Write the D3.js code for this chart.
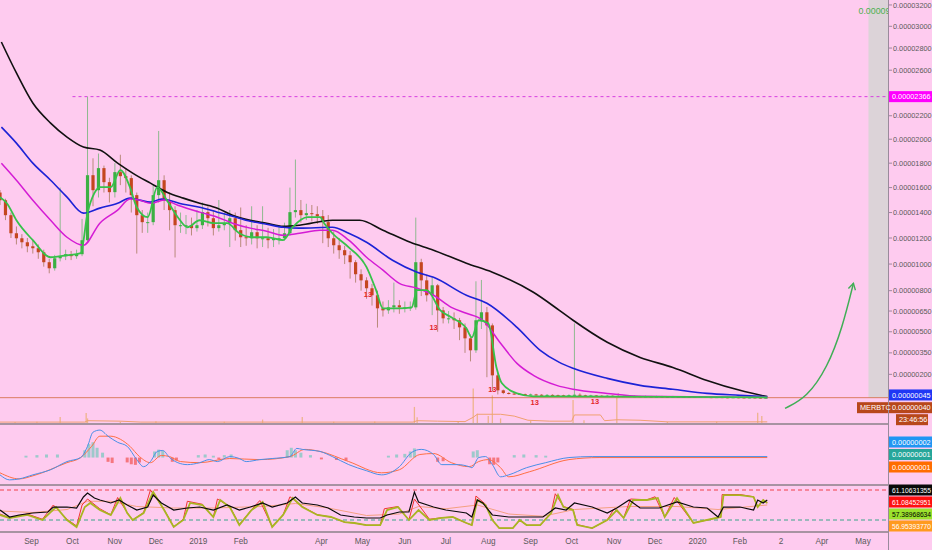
<!DOCTYPE html>
<html>
<head>
<meta charset="utf-8">
<script src="https://cdn.jsdelivr.net/npm/d3@7"></script>
<style>
  body { margin: 0; background: #fecbef; }
  svg { display: block; font-family: "Liberation Sans", Arial, sans-serif; }
</style>
</head>
<body>
<div id="chart-container"></div>
<script>
// Prices are in satoshi (1e-8 BTC). Candles every 4 days from 2018-08-09.
const candleStart = "2018-08-09";
const candleStepDays = 4;

const closes = [
  1498,1379,1237,1198,1167,1136,1121,1090,1014,968,
  1044,1060,1075,1060,1075,1183,1701,1579,1759,1644,
  1563,1726,1693,1677,1539,1379,1324,1324,1539,1660,
  1498,1419,1300,1300,1300,1277,1300,1403,1355,1277,
  1300,1316,1355,1261,1206,1198,1245,1198,1198,1183,
  1198,1198,1237,1403,1419,1379,1395,1387,1371,1324,
  1198,1144,1106,1067,1014,923,877,818,766,670,
  655,677,692,677,677,677,1014,877,766,840,
  655,597,597,583,532,453,368,583,641,546,
  193,90,72,68,66,64,62,62,60,58,
  59,57,56,55,57,60,56,54,55,53,
  52,53,51,50,51,49,50,48,49,47,
  48,47,46,47,45,46,45,44,46,44,
  43,44,43,42,43,42,41,42,41,40,
  40];
const highs = [
  1580,1510,1400,1290,1230,1200,1180,1150,1110,1040,
  1070,1600,1110,1100,1110,1350,2366,1840,1880,1780,
  1680,1800,1870,1760,1700,1560,1420,1400,1620,2070,
  1700,1560,1450,1400,1380,1360,1420,1480,1450,1420,
  1500,1400,1420,1400,1440,1300,1450,1300,1450,1280,
  1270,1300,1320,1600,1830,1500,1470,1460,1450,1420,
  1380,1250,1200,1140,1100,1030,960,900,850,800,
  720,730,860,730,720,720,1360,1040,920,900,
  850,680,650,640,600,560,480,870,880,680,
  560,210,95,78,72,70,68,68,66,64,
  65,63,61,60,63,560,70,60,60,58,
  57,58,56,70,56,54,55,53,54,52,
  53,52,51,52,50,51,50,49,51,49,
  48,49,48,47,48,47,46,47,46,45,
  45];
const lows = [
  1460,1340,1200,1150,1120,1090,1080,1040,980,930,
  950,1020,1030,1030,1040,1060,1170,1450,1520,1560,
  1480,1520,1620,1560,1400,1080,1240,1240,1300,1480,
  1420,1260,1050,1240,1230,1220,1250,1270,1290,1220,
  1250,1260,1130,1180,1130,1140,1150,1120,1130,1120,
  1130,1150,1180,1220,1360,1320,1340,1330,1310,1160,
  1130,1080,1040,1000,890,860,800,740,690,530,
  610,630,640,630,640,650,660,760,720,620,
  500,560,560,520,440,350,290,350,520,180,
  85,62,64,62,60,58,56,56,54,52,
  53,51,50,49,50,52,50,48,49,47,
  46,47,45,45,45,43,44,42,43,41,
  42,41,40,41,39,40,39,38,40,38,
  37,38,37,36,37,36,35,36,35,34,
  35];
const firstOpen = 1560;

// Moving averages
const maBlack = [
  ["2018-08-10",2855],["2018-08-21",2575],["2018-09-02",2310],["2018-09-15",2137],["2018-09-27",2018],
  ["2018-10-09",1934],["2018-10-21",1909],["2018-11-03",1800],["2018-11-14",1718],["2018-11-27",1636],
  ["2018-12-09",1563],["2018-12-21",1515],["2019-01-02",1474],["2019-01-15",1435],["2019-01-26",1379],
  ["2019-02-08",1339],["2019-02-20",1316],["2019-03-04",1292],["2019-03-16",1300],["2019-04-09",1339],
  ["2019-04-29",1339],["2019-05-16",1261],["2019-06-05",1167],["2019-06-22",1106],["2019-07-16",1006],
  ["2019-08-04",938],["2019-09-03",788],["2019-09-22",655],["2019-10-02",583],["2019-10-27",425],
  ["2019-11-20",318],["2019-12-14",248],["2020-01-08",158],["2020-02-01",90],["2020-02-21",47]];
const maBlue = [
  ["2018-08-10",2103],["2018-08-21",1967],["2018-09-02",1800],["2018-09-15",1660],["2018-09-27",1523],
  ["2018-10-09",1395],["2018-10-21",1435],["2018-11-03",1474],["2018-11-12",1515],["2018-11-19",1499],
  ["2018-11-27",1483],["2018-12-05",1507],["2018-12-21",1466],["2019-01-02",1442],["2019-01-15",1403],
  ["2019-01-26",1371],["2019-02-08",1331],["2019-02-20",1308],["2019-03-04",1284],["2019-03-16",1277],
  ["2019-04-09",1284],["2019-04-21",1237],["2019-05-04",1167],["2019-05-23",1029],["2019-06-10",938],
  ["2019-06-22",900],["2019-07-16",766],["2019-07-31",707],["2019-08-22",532],["2019-09-08",368],
  ["2019-09-22",283],["2019-10-02",242],["2019-10-27",172],["2019-11-20",124],["2019-12-14",97],
  ["2020-01-08",69],["2020-02-01",56],["2020-02-21",46]];
const maMagenta = [
  ["2018-08-10",1800],["2018-08-21",1660],["2018-09-02",1498],["2018-09-15",1339],["2018-09-27",1206],
  ["2018-10-09",1144],["2018-10-21",1316],["2018-11-03",1419],["2018-11-12",1507],["2018-11-19",1499],
  ["2018-11-27",1474],["2018-12-07",1499],["2018-12-17",1458],["2019-01-02",1403],["2019-01-15",1363],
  ["2019-01-26",1316],["2019-02-08",1277],["2019-02-20",1253],["2019-03-04",1222],["2019-03-16",1237],
  ["2019-03-31",1261],["2019-04-09",1261],["2019-04-21",1183],["2019-05-04",1052],["2019-05-16",954],
  ["2019-05-28",855],["2019-06-10",818],["2019-06-22",766],["2019-07-05",677],["2019-07-16",634],
  ["2019-07-28",583],["2019-08-10",418],["2019-08-22",276],["2019-09-03",193],["2019-09-20",124],
  ["2019-10-02",97],["2019-10-27",69],["2019-11-20",49],["2020-02-21",42]];
const maGreen = [
  ["2018-08-09",1523],["2018-08-14",1474],["2018-08-21",1339],["2018-09-02",1183],["2018-09-15",1052],
  ["2018-09-27",1067],["2018-10-07",1083],["2018-10-12",1395],["2018-10-17",1555],["2018-10-21",1604],
  ["2018-10-29",1604],["2018-11-05",1743],["2018-11-12",1604],["2018-11-17",1442],["2018-11-25",1363],
  ["2018-12-02",1604],["2018-12-09",1498],["2018-12-17",1363],["2018-12-24",1284],["2019-01-02",1339],
  ["2019-01-12",1316],["2019-01-22",1316],["2019-01-31",1237],["2019-02-09",1206],["2019-02-20",1206],
  ["2019-03-04",1183],["2019-03-11",1284],["2019-03-22",1363],["2019-03-31",1363],["2019-04-03",1316],
  ["2019-04-09",1237],["2019-04-21",1128],["2019-05-04",977],["2019-05-11",804],["2019-05-16",670],
  ["2019-05-28",670],["2019-06-06",677],["2019-06-10",804],["2019-06-17",804],["2019-06-27",655],
  ["2019-07-05",604],["2019-07-16",525],["2019-07-20",460],["2019-07-25",583],["2019-08-01",561],
  ["2019-08-07",248],["2019-08-11",138],["2019-08-22",69],["2019-09-03",49],["2019-09-22",49],
  ["2020-02-21",42]];

// Volume (arbitrary units) and its moving average
const volume = [
  ["2018-08-20",4],["2018-09-05",5],["2018-09-22",26],["2018-10-11",43],["2018-10-12",20],["2018-11-05",6],
  ["2018-12-01",8],["2019-01-20",5],["2019-02-17",15],["2019-03-18",26],["2019-04-10",5],["2019-05-10",6],
  ["2019-06-08",70],["2019-06-10",25],["2019-07-10",8],["2019-07-21",150],["2019-07-24",40],["2019-08-01",30],
  ["2019-08-04",120],["2019-08-10",20],["2019-09-01",10],["2019-10-02",100],["2019-10-10",12],["2019-11-03",110],
  ["2019-12-10",6],["2020-01-15",5],["2020-02-14",45],["2020-02-17",30]];
const volumeMa = [
  ["2018-08-09",4],["2018-10-10",4],["2018-10-12",10],["2018-11-05",8],["2018-11-20",4],["2019-06-07",4],
  ["2019-06-10",10],["2019-06-25",8],["2019-07-15",6],["2019-07-21",25],["2019-07-24",38],["2019-08-10",38],
  ["2019-08-20",30],["2019-08-30",12],["2019-09-15",8],["2019-10-01",8],["2019-10-03",35],["2019-10-22",35],
  ["2019-10-25",10],["2019-11-03",14],["2019-11-20",12],["2019-12-10",5],["2020-02-21",5]];

// MACD pane (scaled units as drawn)
const macdLine = [
  ["2018-08-09",-142],["2018-08-16",-183],["2018-08-23",-175],["2018-09-02",-142],["2018-09-15",-100],
  ["2018-09-27",-33],["2018-10-07",0],["2018-10-12",92],["2018-10-16",208],["2018-10-21",225],
  ["2018-10-27",175],["2018-11-03",125],["2018-11-10",92],["2018-11-17",-17],["2018-11-22",-75],
  ["2018-11-27",-33],["2018-12-02",50],["2018-12-06",58],["2018-12-11",0],["2018-12-17",-42],
  ["2018-12-24",-58],["2019-01-02",-42],["2019-01-09",-17],["2019-01-15",-33],["2019-01-24",8],
  ["2019-01-31",-8],["2019-02-05",-33],["2019-02-15",-17],["2019-02-24",-8],["2019-03-09",8],
  ["2019-03-14",75],["2019-03-18",67],["2019-03-31",50],["2019-04-09",8],["2019-04-21",-58],
  ["2019-05-04",-108],["2019-05-15",-142],["2019-05-28",-75],["2019-06-06",42],["2019-06-13",67],
  ["2019-06-22",25],["2019-06-28",-58],["2019-07-10",-58],["2019-07-18",-75],["2019-07-20",-83],
  ["2019-07-25",0],["2019-07-30",8],["2019-08-04",-58],["2019-08-10",-158],["2019-08-16",-142],
  ["2019-08-29",-83],["2019-09-12",-42],["2019-09-29",0],["2019-10-16",8],["2020-02-21",8]];
const macdSignal = [
  ["2018-08-09",-125],["2018-08-23",-175],["2018-09-02",-150],["2018-09-27",-42],["2018-10-07",0],
  ["2018-10-15",92],["2018-10-21",175],["2018-10-29",175],["2018-11-05",150],["2018-11-12",92],
  ["2018-11-19",8],["2018-11-27",-42],["2018-12-05",17],["2018-12-11",8],["2018-12-19",-33],
  ["2019-01-02",-42],["2019-01-24",-8],["2019-02-15",-17],["2019-03-09",8],["2019-03-20",67],
  ["2019-03-31",50],["2019-04-21",-33],["2019-05-15",-125],["2019-05-28",-100],["2019-06-12",25],
  ["2019-06-22",33],["2019-07-05",-42],["2019-07-18",-75],["2019-07-25",-33],["2019-08-01",-17],
  ["2019-08-10",-83],["2019-08-16",-158],["2019-08-31",-117],["2019-09-29",-17],["2019-10-21",0],
  ["2020-02-21",0]];
const macdHist = [
  ["2018-08-28",15],["2018-09-05",20],["2018-09-12",25],["2018-09-20",25],["2018-10-10",60],["2018-10-13",110],
  ["2018-10-16",125],["2018-10-19",80],["2018-10-23",40],["2018-10-27",-35],["2018-10-30",-45],["2018-11-10",-40],
  ["2018-11-13",-55],["2018-11-16",-60],["2018-11-19",-40],["2018-11-30",50],["2018-12-03",65],["2018-12-06",55],
  ["2018-12-13",-35],["2018-12-16",-25],["2019-01-01",20],["2019-01-06",25],["2019-01-12",15],["2019-01-16",-15],
  ["2019-01-20",20],["2019-01-25",25],["2019-03-07",60],["2019-03-10",80],["2019-03-13",60],["2019-03-17",40],
  ["2019-03-24",20],["2019-04-01",-15],["2019-04-12",-20],["2019-04-19",-25],["2019-05-20",15],["2019-05-26",25],
  ["2019-06-01",30],["2019-06-05",50],["2019-06-08",75],["2019-06-25",-35],["2019-06-29",-30],["2019-07-21",50],
  ["2019-07-24",60],["2019-08-02",-55],["2019-08-05",-60],["2019-08-08",-40],["2019-08-20",20],["2019-08-27",25],
  ["2019-09-05",20],["2019-09-12",15]];

// Oscillator pane
const oscBlack = [
  ["2018-08-09",43.3],["2018-08-16",34],["2018-08-23",36.7],["2018-09-02",39.3],["2018-09-13",40.7],
  ["2018-09-17",47.3],["2018-09-27",47.3],["2018-10-04",46],["2018-10-09",60.7],["2018-10-12",66],
  ["2018-10-17",59.3],["2018-10-21",56.7],["2018-10-29",52.7],["2018-11-04",56.7],["2018-11-10",50],
  ["2018-11-17",43.3],["2018-11-25",47.3],["2018-11-29",63.3],["2018-12-05",52.7],["2018-12-14",43.3],
  ["2018-12-24",46],["2019-01-02",47.3],["2019-01-12",43.3],["2019-01-22",50],["2019-01-31",43.3],
  ["2019-02-08",47.3],["2019-02-17",52.7],["2019-02-24",47.3],["2019-03-07",52.7],["2019-03-13",60.7],
  ["2019-03-18",52.7],["2019-03-29",50],["2019-04-06",46],["2019-04-15",36.7],["2019-04-25",34],
  ["2019-05-04",32.7],["2019-05-14",32.7],["2019-05-19",36.7],["2019-05-28",40.7],["2019-06-04",40.7],
  ["2019-06-08",67.3],["2019-06-11",54],["2019-06-22",47.3],["2019-07-01",43.3],["2019-07-16",39.3],
  ["2019-07-20",34],["2019-07-24",56.7],["2019-07-28",52.7],["2019-08-04",36.7],["2019-08-16",34],
  ["2019-08-29",34],["2019-09-10",34],["2019-09-19",46],["2019-09-27",43.3],["2019-10-03",52.7],
  ["2019-10-16",47.3],["2019-10-27",39.3],["2019-11-03",46],["2019-11-12",56.7],["2019-11-20",46],
  ["2019-12-04",46],["2019-12-17",54],["2019-12-29",47.3],["2020-01-08",46],["2020-01-16",34],
  ["2020-01-20",47.3],["2020-02-01",47.3],["2020-02-11",43.3],["2020-02-14",56.7],["2020-02-18",52.7],
  ["2020-02-21",56.7]];
const oscYellow = [
  ["2018-08-09",36.7],["2018-08-16",32.7],["2018-08-29",36.7],["2018-09-09",30],["2018-09-19",47.3],
  ["2018-09-27",30],["2018-10-04",20.7],["2018-10-10",47.3],["2018-10-14",52.7],["2018-10-21",43.3],
  ["2018-10-29",36.7],["2018-11-05",59.3],["2018-11-10",39.3],["2018-11-14",30],["2018-11-22",39.3],
  ["2018-11-29",67.3],["2018-12-07",43.3],["2018-12-14",20.7],["2018-12-21",30],["2018-12-26",52.7],
  ["2019-01-04",50],["2019-01-12",34],["2019-01-17",56.7],["2019-01-24",47.3],["2019-01-31",23.3],
  ["2019-02-09",43.3],["2019-02-17",54],["2019-02-24",20.7],["2019-03-04",36.7],["2019-03-11",59.3],
  ["2019-03-18",47.3],["2019-03-29",36.7],["2019-04-08",34],["2019-04-18",27.3],["2019-04-25",26],
  ["2019-05-04",23.3],["2019-05-14",23.3],["2019-05-19",43.3],["2019-05-27",47.3],["2019-06-04",30],
  ["2019-06-11",43.3],["2019-06-19",30],["2019-06-28",32.7],["2019-07-06",34],["2019-07-16",26],
  ["2019-07-20",23.3],["2019-07-24",56.7],["2019-07-30",50],["2019-08-04",30],["2019-08-09",19.3],
  ["2019-08-19",19.3],["2019-08-24",30],["2019-08-29",23.3],["2019-09-08",23.3],["2019-09-16",39.3],
  ["2019-09-21",63.3],["2019-09-25",47.3],["2019-10-02",43.3],["2019-10-05",23.3],["2019-10-16",19.3],
  ["2019-10-27",30],["2019-11-03",43.3],["2019-11-08",32.7],["2019-11-15",56.7],["2019-11-25",56.7],
  ["2019-12-03",59.3],["2019-12-08",34],["2019-12-17",59.3],["2019-12-29",26],["2020-01-18",34],
  ["2020-01-20",63.3],["2020-02-01",63.3],["2020-02-11",60.7],["2020-02-14",47.3],["2020-02-18",56.7],
  ["2020-02-21",52.7]];
const oscRed = [
  ["2018-08-09",38],["2018-08-16",33],["2018-08-29",38],["2018-09-09",31],["2018-09-17",50],["2018-09-27",31],
  ["2018-10-04",22],["2018-10-08",50],["2018-10-12",58],["2018-10-21",45],["2018-10-29",37],["2018-11-03",60],
  ["2018-11-10",40],["2018-11-14",30],["2018-11-22",40],["2018-11-27",70],["2018-12-07",44],["2018-12-14",21],
  ["2018-12-21",31],["2018-12-24",55],["2019-01-04",51],["2019-01-12",34],["2019-01-15",58],["2019-01-24",48],
  ["2019-01-31",24],["2019-02-09",44],["2019-02-15",56],["2019-02-24",21],["2019-03-04",37],["2019-03-09",61],
  ["2019-03-18",48],["2019-03-29",37],["2019-04-08",34],["2019-04-18",27],["2019-04-25",26],["2019-05-04",23],
  ["2019-05-14",23],["2019-05-17",45],["2019-05-27",48],["2019-06-04",30],["2019-06-08",58],["2019-06-19",31],
  ["2019-06-28",33],["2019-07-06",34],["2019-07-16",26],["2019-07-20",23],["2019-07-23",62],["2019-07-30",51],
  ["2019-08-04",30],["2019-08-09",19],["2019-08-19",19],["2019-08-24",30],["2019-08-29",23],["2019-09-08",23],
  ["2019-09-16",40],["2019-09-19",65],["2019-09-25",48],["2019-10-02",44],["2019-10-05",24],["2019-10-16",19],
  ["2019-10-27",30],["2019-11-01",45],["2019-11-08",33],["2019-11-13",58],["2019-11-25",57],["2019-12-01",61],
  ["2019-12-08",34],["2019-12-15",60],["2019-12-29",26],["2020-01-18",34],["2020-01-19",64],["2020-02-01",64],
  ["2020-02-11",61],["2020-02-14",47],["2020-02-18",57],["2020-02-21",53]];
const oscSalmon = [
  ["2018-08-09",42],["2018-09-02",40],["2018-09-27",44],["2018-10-12",55],["2018-10-29",55],["2018-11-17",48],
  ["2018-12-14",46],["2019-01-12",46],["2019-02-17",48],["2019-03-13",52],["2019-04-06",46],["2019-05-04",36],
  ["2019-05-28",38],["2019-06-11",48],["2019-07-01",45],["2019-07-24",50],["2019-08-16",38],["2019-09-10",35],
  ["2019-10-03",44],["2019-11-12",48],["2019-12-17",48],["2020-01-16",44],["2020-02-21",50]];
const oscLevels = [70, 30];

// Axes
const priceTicks = [3200,3000,2800,2600,2200,2000,1800,1600,1400,1200,1000,800,650,500,350,200];
const monthTicks = ["2018-09-01","2018-10-01","2018-11-01","2018-12-01","2019-01-01","2019-02-01",
  "2019-04-01","2019-05-01","2019-06-01","2019-07-01","2019-08-01","2019-09-01","2019-10-01",
  "2019-11-01","2019-12-01","2020-01-01","2020-02-01","2020-03-02","2020-04-01","2020-05-01"];
const monthLabels = ["Sep","Oct","Nov","Dec","2019","Feb","Apr","May","Jun","Jul","Aug","Sep","Oct",
  "Nov","Dec","2020","Feb","2","Apr","May"];

// Annotations
const resistanceLevel = 2366;
const resistanceFrom = "2018-10-01";
const maLastValue = 45;
const symbol = "MERBTC";
const countdown = "23:46:56";
const topNote = "0.00009";
const macdLabels = ["0.00000002", "0.00000001", "0.00000001"];
const oscLabels = ["61.10631355", "61.08452951", "57.38968634", "56.95393770"];
const tdDates = ["2019-05-05","2019-06-22","2019-08-04","2019-09-04","2019-10-18"];
const tdTexts = ["13","13","13","13","13"];
const tdValues = [751, 510, 76, -7, -5];
const arrowPath = [["2020-03-05",-32],["2020-03-21",42],["2020-04-05",248],["2020-04-16",532],["2020-04-24",855]];
const bandFrom = "2020-05-05";

// ---------------------------------------------------------------
const W = 932, H = 550;
const plotW = 888;
const mainBottom = 424, macdBottom = 485, oscBottom = 532;

const parse = d3.timeParse("%Y-%m-%d");
const pts = (arr) => arr.map(([d, v]) => ({ date: parse(d), value: v }));
const sat = (v) => (v / 1e8).toFixed(8);
// font size that keeps a right-hand label inside the 43px axis column
const fitSize = (text) => text.length > 10 ? "6.7px" : "7.3px";

const svg = d3.select("#chart-container").append("svg")
  .attr("width", W).attr("height", H);

svg.append("rect").attr("width", W).attr("height", H).attr("fill", "#fecbef");

const defs = svg.append("defs");
defs.append("clipPath").attr("id", "clip-main")
  .append("rect").attr("width", plotW).attr("height", mainBottom);
defs.append("clipPath").attr("id", "clip-macd")
  .append("rect").attr("y", mainBottom).attr("width", plotW).attr("height", macdBottom - mainBottom);
defs.append("clipPath").attr("id", "clip-osc")
  .append("rect").attr("y", macdBottom).attr("width", plotW).attr("height", oscBottom - macdBottom);
defs.append("marker").attr("id", "arrowhead")
  .attr("viewBox", "0 0 10 10").attr("refX", 8).attr("refY", 5)
  .attr("markerWidth", 6).attr("markerHeight", 6).attr("orient", "auto")
  .append("path").attr("d", "M1,1 L8,5 L1,9").attr("fill", "none")
  .attr("stroke", "#3fae55").attr("stroke-width", 1.5);

// Scales
const x = d3.scaleTime()
  .domain([parse("2018-08-09"), parse("2020-05-01")])
  .range([0, 863]);
const y = d3.scaleSymlog().constant(8000)
  .domain([-139, 3247])
  .range([mainBottom, 0]);
const yVol = d3.scaleLinear().domain([0, 100]).range([mainBottom - 1, mainBottom - 24]);
const yMacd = d3.scaleLinear().domain([-225, 275]).range([macdBottom, mainBottom]);
const yOsc = d3.scaleLinear().domain([30, 70]).range([520, 490]);

// Candles
const start = parse(candleStart);
const candles = closes.map((c, i) => ({
  date: d3.timeDay.offset(start, i * candleStepDays),
  open: i === 0 ? firstOpen : closes[i - 1],
  close: c, high: highs[i], low: lows[i]
}));

const main = svg.append("g").attr("clip-path", "url(#clip-main)");

// Projection band
main.append("rect")
  .attr("x", x(parse(bandFrom)))
  .attr("width", plotW - x(parse(bandFrom)))
  .attr("y", 0)
  .attr("height", y(closes[closes.length - 1]))
  .attr("fill", "#dcd3d8");

main.append("text")
  .attr("x", x(parse(bandFrom)) - 10).attr("y", 14)
  .attr("fill", "#4caf50").style("font-size", "9px")
  .attr("textLength", 32).attr("lengthAdjust", "spacingAndGlyphs")
  .text(topNote);

// Resistance dashed line
main.append("line")
  .attr("x1", x(parse(resistanceFrom))).attr("x2", plotW)
  .attr("y1", y(resistanceLevel)).attr("y2", y(resistanceLevel))
  .attr("stroke", "#d63fe0").attr("stroke-width", 1)
  .attr("stroke-dasharray", "3,3");

// Volume
main.selectAll(".vol").data(pts(volume)).enter().append("line")
  .attr("x1", (d) => x(d.date)).attr("x2", (d) => x(d.date))
  .attr("y1", yVol(0)).attr("y2", (d) => yVol(d.value))
  .attr("stroke", "#eeb48c").attr("stroke-width", 1.3);
main.append("path").datum(pts(volumeMa))
  .attr("fill", "none").attr("stroke", "#f0a070").attr("stroke-width", 1)
  .attr("d", d3.line().x((d) => x(d.date)).y((d) => yVol(d.value)));

// Last price line
const lastClose = closes[closes.length - 1];
main.append("line")
  .attr("x1", 0).attr("x2", plotW)
  .attr("y1", y(lastClose)).attr("y2", y(lastClose))
  .attr("stroke", "#d2693c").attr("stroke-width", 0.8);

// Candles: wicks then bodies
main.selectAll(".wick").data(candles).enter().append("line")
  .attr("x1", (d) => x(d.date)).attr("x2", (d) => x(d.date))
  .attr("y1", (d) => y(d.high)).attr("y2", (d) => y(d.low))
  .attr("stroke", (d) => d.close >= d.open ? "#8fb98f" : "#b98a7a")
  .attr("stroke-width", 1);
main.selectAll(".body").data(candles).enter().append("rect")
  .attr("x", (d) => x(d.date) - 1.6)
  .attr("width", 3.2)
  .attr("y", (d) => y(Math.max(d.open, d.close)))
  .attr("height", (d) => Math.max(1, Math.abs(y(d.open) - y(d.close))))
  .attr("fill", (d) => d.close >= d.open ? "#3cb043" : "#c4461f");

// Moving averages
const maLine = d3.line().x((d) => x(d.date)).y((d) => y(d.value)).curve(d3.curveMonotoneX);
[[maBlack, "#111111", 1.6], [maBlue, "#1c22d6", 1.6], [maMagenta, "#d41cd4", 1.5], [maGreen, "#36c24a", 1.8]]
  .forEach(([series, color, w]) => {
    main.append("path").datum(pts(series))
      .attr("fill", "none").attr("stroke", color).attr("stroke-width", w)
      .attr("d", maLine);
  });

// TD sequential counts
main.selectAll(".td").data(tdDates).enter().append("text")
  .attr("x", (d) => x(parse(d)))
  .attr("y", (d, i) => y(tdValues[i]))
  .attr("text-anchor", "middle")
  .attr("fill", "#e3262b").style("font-size", "7.5px").style("font-weight", "bold")
  .text((d, i) => tdTexts[i]);

// Green arrow annotation
main.append("path").datum(pts(arrowPath))
  .attr("fill", "none").attr("stroke", "#3fae55").attr("stroke-width", 1.5)
  .attr("marker-end", "url(#arrowhead)")
  .attr("d", d3.line().x((d) => x(d.date)).y((d) => y(d.value)).curve(d3.curveBasis));

// MACD pane
const macd = svg.append("g").attr("clip-path", "url(#clip-macd)");
macd.selectAll(".hist").data(pts(macdHist)).enter().append("rect")
  .attr("x", (d) => x(d.date) - 1.5).attr("width", 3)
  .attr("y", (d) => Math.min(yMacd(d.value), yMacd(0)))
  .attr("height", (d) => Math.abs(yMacd(d.value) - yMacd(0)))
  .attr("fill", (d) => d.value >= 0 ? "#7cc8bf" : "#f25a5a")
  .attr("opacity", 0.75);
const macdPath = d3.line().x((d) => x(d.date)).y((d) => yMacd(d.value)).curve(d3.curveMonotoneX);
macd.append("path").datum(pts(macdSignal))
  .attr("fill", "none").attr("stroke", "#ff6f43").attr("stroke-width", 1).attr("d", macdPath);
macd.append("path").datum(pts(macdLine))
  .attr("fill", "none").attr("stroke", "#4a8fe7").attr("stroke-width", 1).attr("d", macdPath);

// Oscillator pane
const osc = svg.append("g").attr("clip-path", "url(#clip-osc)");
osc.selectAll(".lvl").data(oscLevels).enter().append("line")
  .attr("x1", 0).attr("x2", plotW)
  .attr("y1", (d) => yOsc(d)).attr("y2", (d) => yOsc(d))
  .attr("stroke", (d, i) => i === 0 ? "#f0434a" : "#3aa58a")
  .attr("stroke-width", 1).attr("stroke-dasharray", "4,3");
const oscPath = d3.line().x((d) => x(d.date)).y((d) => yOsc(d.value));
[[oscSalmon, "#f4a080", 1], [oscRed, "#f0342e", 1], [oscYellow, "#a9b522", 1.8], [oscBlack, "#0a0a0a", 1.2]]
  .forEach(([series, color, w]) => {
    osc.append("path").datum(pts(series))
      .attr("fill", "none").attr("stroke", color).attr("stroke-width", w)
      .attr("d", oscPath);
  });

// Pane separators and right axis line
svg.selectAll(".sep").data([mainBottom, macdBottom, oscBottom]).enter().append("line")
  .attr("x1", 0).attr("x2", plotW)
  .attr("y1", (d) => d).attr("y2", (d) => d)
  .attr("stroke", "#8a8088").attr("stroke-width", 1.5);
svg.append("line")
  .attr("x1", plotW + 0.5).attr("x2", plotW + 0.5)
  .attr("y1", 0).attr("y2", H)
  .attr("stroke", "#9a8a9c").attr("stroke-width", 1);

// Price axis
const axis = svg.append("g");
axis.selectAll(".tick").data(priceTicks).enter().append("line")
  .attr("x1", plotW).attr("x2", plotW + 4)
  .attr("y1", (d) => y(d)).attr("y2", (d) => y(d))
  .attr("stroke", "#9a8a9c");
axis.selectAll(".tl").data(priceTicks).enter().append("text")
  .attr("x", plotW + 5).attr("y", (d) => y(d) + 2.6)
  .attr("fill", "#5a5a5a").style("font-size", (d) => fitSize(sat(d)))
  .text((d) => sat(d));

// Value tags on the right
function tag(yc, text, bg, fg, x0 = plotW + 1, w = W - plotW - 1) {
  svg.append("rect").attr("x", x0).attr("y", yc - 5.5).attr("width", w).attr("height", 11).attr("fill", bg);
  svg.append("text").attr("x", x0 + 3).attr("y", yc + 2.6)
    .attr("fill", fg).style("font-size", fitSize(text))
    .text(text);
}
tag(y(resistanceLevel), sat(resistanceLevel), "#ff00ff", "#ffffff");
tag(y(maLastValue) - 2, sat(maLastValue), "#1f37f5", "#ffffff");
tag(y(lastClose) + 10, sat(lastClose), "#b8471b", "#ffffff");
tag(y(lastClose) + 10, symbol, "#b8471b", "#ffffff", plotW - 31, 31);
tag(y(lastClose) + 22, countdown, "#b8471b", "#ffffff", plotW + 8, 32);

const macdColors = ["#2196f3", "#26a69a", "#ff6d00"];
macdLabels.forEach((t, i) => tag(mainBottom + 18 + i * 12.5, t, macdColors[i], "#ffffff"));
const oscColors = [["#0a0a0a", "#ffffff"], ["#ff1010", "#ffffff"], ["#9be22d", "#000000"], ["#ff9a1f", "#ffffff"]];
oscLabels.forEach((t, i) => tag(macdBottom + 5 + i * 12, t, oscColors[i][0], oscColors[i][1]));

// Time axis
svg.selectAll(".ml").data(monthTicks).enter().append("text")
  .attr("x", (d) => x(parse(d))).attr("y", 544)
  .attr("text-anchor", "middle")
  .attr("fill", "#5a5a5a").style("font-size", "8.2px")
  .text((d, i) => monthLabels[i]);
</script>
</body>
</html>
